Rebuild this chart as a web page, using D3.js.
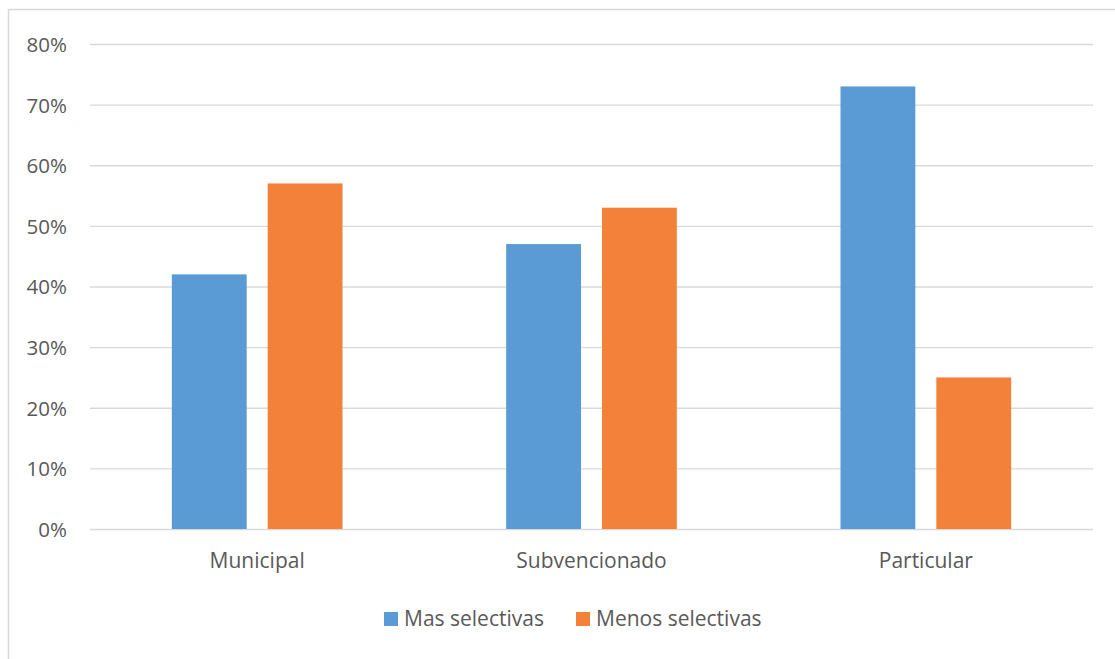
<!DOCTYPE html>
<html><head><meta charset="utf-8">
<script src="https://cdn.jsdelivr.net/npm/d3@7"></script>
<style>body{margin:0;background:#fff}svg{display:block}</style>
</head><body>
<svg id="c" width="1115" height="659"></svg>
<script>
const categories = ["Municipal", "Subvencionado", "Particular"];
const seriesNames = ["Mas selectivas", "Menos selectivas"];
const masSelectivas = [0.42, 0.47, 0.73];
const menosSelectivas = [0.57, 0.53, 0.25];
const tickValues = [0, 0.1, 0.2, 0.3, 0.4, 0.5, 0.6, 0.7, 0.8];
const colors = ["#5B9BD5", "#F4813A"];

const svg = d3.select("#c");
const font = "'Open Sans', 'Liberation Sans', sans-serif";
const textColor = "#595959";
const gridColor = "#d9d9d9";

// border
svg.append("rect").attr("x", 8.5).attr("y", 9.5).attr("width", 1200).attr("height", 700)
  .attr("fill", "none").attr("stroke", gridColor).attr("stroke-width", 1.5);

const m = {left: 90, right: 1093, top: 44, bottom: 529};
const y = d3.scaleLinear().domain([0, 0.8]).range([m.bottom, m.top]);
const x0 = d3.scaleBand().domain(categories).range([m.left, m.right]).paddingInner(0).paddingOuter(0);
const x1 = d3.scaleBand().domain(seriesNames).range([0, x0.bandwidth()]).paddingInner(0.219).paddingOuter(0.854);

// gridlines
const yAxis = d3.axisLeft(y).tickValues(tickValues).tickFormat(d3.format(".0%")).tickSize(-(m.right - m.left)).tickPadding(23);
const ga = svg.append("g").attr("transform", `translate(${m.left},0)`).call(yAxis);
ga.select(".domain").remove();
ga.selectAll(".tick line").attr("stroke", gridColor).attr("stroke-width", 1.3);
ga.selectAll(".tick text").attr("fill", textColor).style("font-family", font).style("font-size", "20.5px").attr("dy", "0.36em");

const data = [masSelectivas, menosSelectivas];
seriesNames.forEach((s, si) => {
  svg.append("g").selectAll("rect").data(categories).join("rect")
    .attr("x", c => x0(c) + x1(s))
    .attr("width", x1.bandwidth())
    .attr("y", (c, i) => y(data[si][i]))
    .attr("height", (c, i) => y(0) - y(data[si][i]))
    .attr("fill", colors[si]);
});

// x labels
const xAxis = d3.axisBottom(x0).tickSize(0).tickPadding(24);
const gx = svg.append("g").attr("transform", `translate(0,${m.bottom})`).call(xAxis);
gx.select(".domain").remove();
gx.selectAll(".tick text").attr("fill", textColor).style("font-family", font).style("font-size", "21px");

// legend
const legendX = [384, 576];
seriesNames.forEach((s, i) => {
  svg.append("rect").attr("x", legendX[i]).attr("y", 612).attr("width", 14).attr("height", 14).attr("fill", colors[i]);
  svg.append("text").attr("x", legendX[i] + 20).attr("y", 626).attr("fill", textColor)
    .style("font-family", font).style("font-size", "21px").text(s);
});
</script>
</body></html>
